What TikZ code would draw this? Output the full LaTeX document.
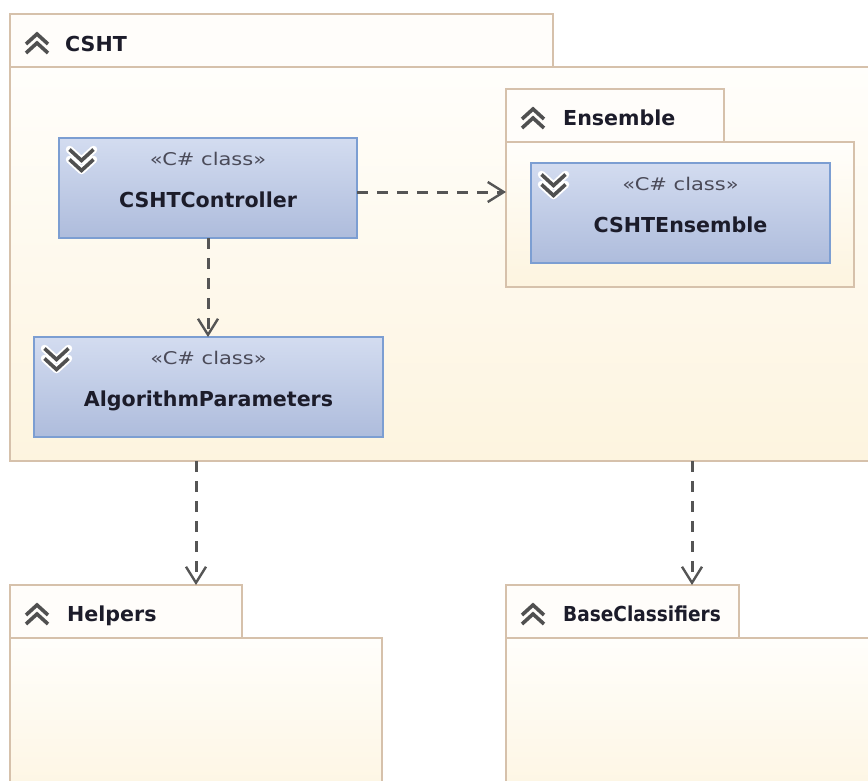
\documentclass[tikz,border=0pt]{standalone}
\usepackage{fontspec}
\setmainfont{DejaVu Sans}
\newfontfamily\stereofont[FakeStretch=1.2]{DejaVu Sans}
\usetikzlibrary{arrows.meta,calc}
\definecolor{pkgline}{HTML}{D6C1AB}
\definecolor{pkgtop}{HTML}{FFFEFB}
\definecolor{pkgbot}{HTML}{FDF4DF}
\definecolor{tabfill}{HTML}{FFFDFA}
\definecolor{clsline}{HTML}{7C9ED2}
\definecolor{clstop}{HTML}{D3DCF0}
\definecolor{clsbot}{HTML}{AEBCDC}
\definecolor{depcol}{HTML}{555555}
\definecolor{chevcol}{HTML}{505050}
\definecolor{namecol}{HTML}{1C1C2A}
\definecolor{stereocol}{HTML}{4A4A58}
\begin{document}
\begin{tikzpicture}[x=1pt,y=-1pt,
  box/.style={anchor=north west,inner sep=0pt,outer sep=0pt},
  pkgtab/.style={box,draw=pkgline,line width=2.6pt,fill=tabfill},
  pkgbody/.style={box,draw=pkgline,line width=2.6pt,top color=pkgtop,bottom color=pkgbot},
  cls/.style={box,draw=clsline,line width=2.6pt,top color=clstop,bottom color=clsbot,minimum height=100pt},
  pkglabel/.style={anchor=base west,inner sep=0pt,font=\fontsize{20.6}{24}\selectfont\bfseries,text=namecol},
  clsname/.style={anchor=base,inner sep=0pt,font=\fontsize{20.6}{24}\selectfont\bfseries,text=namecol},
  stereo/.style={anchor=base,inner sep=0pt,font=\stereofont\fontsize{17.5}{21}\selectfont,text=stereocol},
  dep/.style={draw=depcol,line width=3pt,dash pattern=on 11pt off 9pt,
    -{Straight Barb[length=16pt,width=20pt,line width=2.4pt]}},
  chev/.style={draw=chevcol,line width=3.6pt,line cap=butt,line join=miter},
  upchev/.pic={\draw[chev] (-11,5) -- (0,-5) -- (11,5) (-11,14) -- (0,4) -- (11,14);},
  downchev/.pic={\draw[white,line width=7.5pt,line join=round,line cap=round] (-12,-5) -- (0,6) -- (12,-5) (-12,5) -- (0,16) -- (12,5);
    \draw[chev] (-12,-5) -- (0,6) -- (12,-5) (-12,5) -- (0,16) -- (12,5);}
]
\useasboundingbox (0,0) rectangle (868,780);
\fill[white] (0,0) rectangle (868,780);
\clip (0,0) rectangle (868,780);

% CSHT package
\node[pkgtab,minimum width=543pt,minimum height=53pt] (cshttab) at (10,14) {};
\node[pkgbody,minimum width=890pt,minimum height=394pt] (cshtbody) at (10,67) {};
\pic at ($(cshttab.north west)+(27,25)$) {upchev};
\node[pkglabel] (cshtlbl) at ($(cshttab.north west)+(55,37)$) {CSHT};

% Ensemble package
\node[pkgtab,minimum width=218pt,minimum height=53pt] (enstab) at (506,89) {};
\node[pkgbody,minimum width=348pt,minimum height=145pt] (ensbody) at (506,142) {};
\pic at ($(enstab.north west)+(27,25)$) {upchev};
\node[pkglabel] (enslbl) at ($(enstab.north west)+(57,36)$) {Ensemble};

% Helpers package
\node[pkgtab,minimum width=232pt,minimum height=53pt] (helperstab) at (10,585) {};
\node[pkgbody,minimum width=372pt,minimum height=182pt] (helpersbody) at (10,638) {};
\pic at ($(helperstab.north west)+(27,25)$) {upchev};
\node[pkglabel] (helperslbl) at ($(helperstab.north west)+(57,36)$) {Helpers};

% BaseClassifiers package
\node[pkgtab,minimum width=233pt,minimum height=53pt] (basetab) at (506,585) {};
\node[pkgbody,minimum width=394pt,minimum height=182pt] (basebody) at (506,638) {};
\pic at ($(basetab.north west)+(27,25)$) {upchev};
\node[pkglabel] (baselbl) at ($(basetab.north west)+(57,36)$) {\scalebox{0.9}[1]{BaseClassifiers}};

% classes
\node[cls,minimum width=298pt] (ctrl) at (59,138) {};
\pic at ($(ctrl.north west)+(22.5,16.5)$) {downchev};
\node[stereo] (ctrlst) at ($(ctrl.north)+(0,27)$) {«C\# class»};
\node[clsname] (ctrlnm) at ($(ctrl.north)+(0,69)$) {CSHTController};

\node[cls,minimum width=299pt] (ens) at (531,163) {};
\pic at ($(ens.north west)+(22.5,16.5)$) {downchev};
\node[stereo] (ensst) at ($(ens.north)+(0,27)$) {«C\# class»};
\node[clsname] (ensnm) at ($(ens.north)+(0,69)$) {CSHTEnsemble};

\node[cls,minimum width=349pt] (alg) at (34,337) {};
\pic at ($(alg.north west)+(22.5,16.5)$) {downchev};
\node[stereo] (algst) at ($(alg.north)+(0,27)$) {«C\# class»};
\node[clsname] (algnm) at ($(alg.north)+(0,69)$) {AlgorithmParameters};

% dependencies
\coordinate (c1) at ([yshift=-4pt]ctrl.east);
\draw[dep] (c1) -- (c1 -| ensbody.west);
\draw[dep] (ctrl.south) -- (ctrl.south |- alg.north);
\coordinate (hin) at ($(helperstab.north west)+(186,0)$);
\draw[dep] (hin |- cshtbody.south) -- (hin);
\coordinate (bin) at ($(basetab.north west)+(186,0)$);
\draw[dep] (bin |- cshtbody.south) -- (bin);
\end{tikzpicture}
\end{document}
